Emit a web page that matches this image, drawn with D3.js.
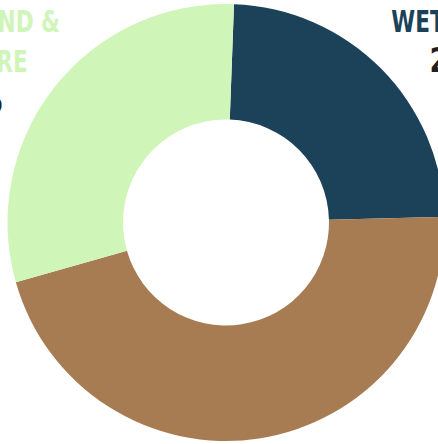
<!DOCTYPE html>
<html>
    <head>
        <script src="https://d3js.org/d3.v7.min.js"></script>
        <style>
            body { margin: 0; background: #fff; }
            #vizBody { width: 438px; height: 444px; overflow: hidden; }
            text { font-family: "Liberation Sans Narrow", "DejaVu Sans Condensed", "Liberation Sans", sans-serif; font-weight: bold; }
        </style>
    </head>
    <body>
        <div id="vizBody"></div>
    </body>
    <script>
        // land cover shares (percent), clockwise from the top
        let categories = ["WETLANDS", "FOREST", "GRASSLAND & PASTURE"];
        let values = [24, 46, 30];
        let colors = ["#1b4258", "#a77c53", "#d0f5b8"];
        // label lines as they are drawn (name split over lines, then percent)
        let labelLines = [["WETLANDS"], ["FOREST"], ["GRASSLAND &", "PASTURE"]];
        let pctLabels = ["24%", "46%", "30%"];

        let width = 438, height = 444,
            cx = 226, cy = 222.5, //center of the donut
            outerR = 218.5, innerR = 103,
            rotation = 2.1 * Math.PI / 180; //chart starts a little past 12 o'clock

        let svg = d3.select("#vizBody")
                    .append("svg")
                        .attr("width", width)
                        .attr("height", height);

        let data = categories.map((c, i) => ({name: c, value: values[i], color: colors[i], lines: labelLines[i], pct: pctLabels[i]}));

        let pie = d3.pie()
                    .value(d => d.value)
                    .sort(null)
                    .startAngle(rotation)
                    .endAngle(rotation + 2 * Math.PI);

        let arc = d3.arc()
                    .innerRadius(innerR)
                    .outerRadius(outerR);

        let donut = svg.append("g")
                       .attr("transform", "translate(" + cx + "," + cy + ")");

        donut.selectAll("path")
             .data(pie(data))
             .join("path")
                .attr("d", arc)
                .style("fill", d => d.data.color);

        // labels sit outside the ring, centred; the ones we see are cut by the frame
        let labelPos = {
            "WETLANDS": {x: 459, y: 32},
            "GRASSLAND & PASTURE": {x: -27, y: 32}
        };

        data.filter(d => labelPos[d.name]).forEach(d => {
            let p = labelPos[d.name];
            let g = svg.append("g")
                       .attr("transform", "translate(" + p.x + "," + p.y + ") scale(0.8,1)");
            d.lines.forEach((line, i) => {
                g.append("text")
                 .attr("y", i * 40)
                 .attr("text-anchor", "middle")
                 .style("font-size", "30px")
                 .style("fill", d.color)
                 .text(line);
            });
            g.append("text")
             .attr("y", d.lines.length * 40)
             .attr("text-anchor", "middle")
             .style("font-size", "34px")
             .style("fill", "#231f20")
             .text(d.pct);
        });
    </script>
</html>
